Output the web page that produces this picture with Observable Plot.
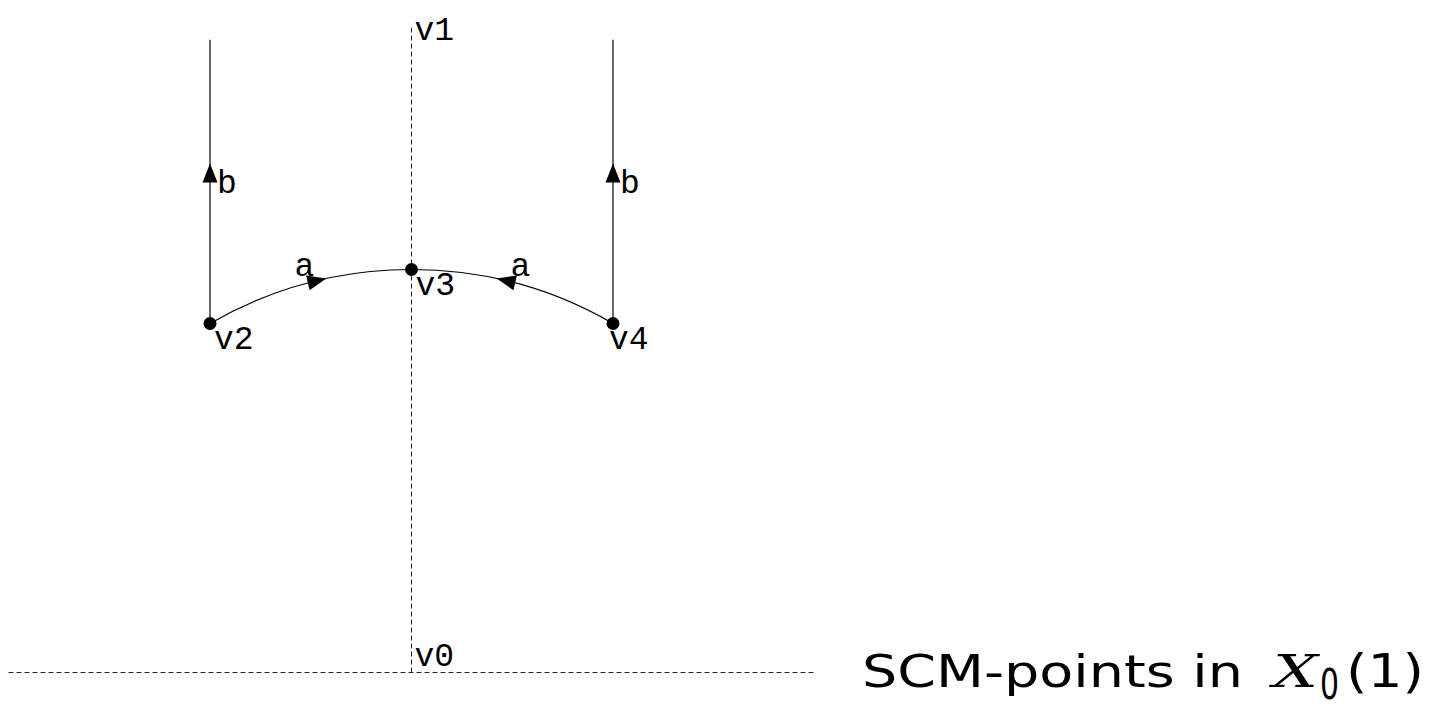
<!DOCTYPE html>
<html><head><meta charset="utf-8">
<script src="https://cdn.jsdelivr.net/npm/d3@7"></script>
<script src="https://cdn.jsdelivr.net/npm/@observablehq/plot@0.6"></script>
<style>html,body{margin:0;padding:0;background:#fff;overflow:hidden}</style>
</head><body><div id="chart"></div>
<script>
// Vertices (in the upper half-plane coordinates)
const vertexNames = ["v0", "v1", "v2", "v3", "v4"];
const vertexX = [0, 0, -0.5, 0, 0.5];
const vertexY = [0, 1.6, 0.866, 1, 0.866];
const markedVertices = ["v2", "v3", "v4"];

// Dashed reference lines (real axis and imaginary axis)
const dashedFrom = [[-1, 0], [0, 0]];
const dashedTo = [[1, 0], [0, 1.6]];

// Vertical edges labelled b (from v2 / v4 up toward the cusp)
const edgeBFrom = [[-0.5, 0.866], [0.5, 0.866]];
const edgeBTo = [[-0.5, 1.57], [0.5, 1.57]];
const arrowBX = [-0.5, 0.5];
const arrowBY = [1.238, 1.238];

// Circular edges labelled a (v2 -> v3, v4 -> v3)
const arrowAX = [-0.2355, 0.2355];
const arrowAY = [0.972, 0.972];
const arrowAAngle = [76.4, -76.4];

const vertices = vertexNames.map((name, i) => ({name, x: vertexX[i], y: vertexY[i]}));
const V = Object.fromEntries(vertices.map(d => [d.name, d]));
const dashed = dashedFrom.map((p, i) => ({x1: p[0], y1: p[1], x2: dashedTo[i][0], y2: dashedTo[i][1]}));
const edgesB = edgeBFrom.map((p, i) => ({x1: p[0], y1: p[1], x2: edgeBTo[i][0], y2: edgeBTo[i][1]}));
const arrowsB = arrowBX.map((x, i) => ({x, y: arrowBY[i], label: "b"}));
const arrowsA = arrowAX.map((x, i) => ({x, y: arrowAY[i], angle: arrowAAngle[i], label: "a"}));

const arrowHead = {draw(ctx) { ctx.moveTo(0, -10); ctx.lineTo(7.5, 9); ctx.lineTo(-7.5, 9); ctx.closePath(); }};
const mono = "Liberation Mono, DejaVu Sans Mono, monospace";
const fs = 33;

const W = 1438, H = 708, ox = 411, oy = 672, k = 403;

const plot = Plot.plot({
  width: W, height: H, margin: 0,
  x: {domain: [-ox / k, (W - ox) / k], range: [0, W], axis: null},
  y: {domain: [(oy - H) / k, oy / k], range: [H, 0], axis: null},
  style: {background: "white", overflow: "visible"},
  marks: [
    Plot.link(dashed, {x1: "x1", y1: "y1", x2: "x2", y2: "y2", stroke: "#222", strokeWidth: 1, strokeDasharray: "5,3"}),
    Plot.link(edgesB, {x1: "x1", y1: "y1", x2: "x2", y2: "y2", stroke: "black", strokeWidth: 1.2}),
    Plot.arrow([{a: V.v2, b: V.v3}], {x1: d => d.a.x, y1: d => d.a.y, x2: d => d.b.x, y2: d => d.b.y, bend: 15, headLength: 0, stroke: "black", strokeWidth: 1.2}),
    Plot.arrow([{a: V.v4, b: V.v3}], {x1: d => d.a.x, y1: d => d.a.y, x2: d => d.b.x, y2: d => d.b.y, bend: -15, headLength: 0, stroke: "black", strokeWidth: 1.2}),
    Plot.dot(arrowsB, {x: "x", y: "y", symbol: arrowHead, fill: "black", stroke: "none"}),
    Plot.dot(arrowsA, {x: "x", y: "y", symbol: arrowHead, fill: "black", stroke: "none", rotate: "angle"}),
    Plot.dot(vertices.filter(d => markedVertices.includes(d.name)), {x: "x", y: "y", r: 6.5, fill: "black", stroke: "none"}),
    Plot.text(vertices.filter(d => d.name === "v2" || d.name === "v3"), {x: "x", y: "y", text: "name", textAnchor: "start", lineAnchor: "bottom", dx: 4, dy: 25, fontFamily: mono, fontSize: fs, fill: "black"}),
    Plot.text(vertices.filter(d => d.name === "v4"), {x: "x", y: "y", text: "name", textAnchor: "start", lineAnchor: "bottom", dx: -4, dy: 25, fontFamily: mono, fontSize: fs, fill: "black"}),
    Plot.text(vertices.filter(d => d.name === "v1"), {x: "x", y: "y", text: "name", textAnchor: "start", lineAnchor: "bottom", dx: 3, dy: 12, fontFamily: mono, fontSize: fs, fill: "black"}),
    Plot.text(vertices.filter(d => d.name === "v0"), {x: "x", y: "y", text: "name", textAnchor: "start", lineAnchor: "bottom", dx: 3, dy: -7, fontFamily: mono, fontSize: fs, fill: "black"}),
    Plot.text(arrowsB, {x: "x", y: "y", text: "label", textAnchor: "start", lineAnchor: "bottom", dx: 7, dy: 19, fontFamily: mono, fontSize: fs, fill: "black"}),
    Plot.text(arrowsA.slice(0, 1), {x: "x", y: "y", text: "label", textAnchor: "start", lineAnchor: "bottom", dx: -22, dy: -5, fontFamily: mono, fontSize: fs, fill: "black"}),
    Plot.text(arrowsA.slice(1), {x: "x", y: "y", text: "label", textAnchor: "start", lineAnchor: "bottom", dx: 4, dy: -5, fontFamily: mono, fontSize: fs, fill: "black"})
  ]
});
document.getElementById("chart").appendChild(plot);

// Caption: "SCM-points in X_0(1)"
const svg = d3.select(plot);
const cap = svg.append("g").attr("fill", "black").attr("text-anchor", "start");
const sans = "DejaVu Sans, sans-serif";
cap.append("text").attr("x", 862).attr("y", 687).attr("text-anchor", "start").attr("font-family", sans).attr("font-size", 45)
  .attr("textLength", 381).attr("lengthAdjust", "spacingAndGlyphs").text("SCM-points in");
cap.append("text").attr("x", 1273).attr("y", 687).attr("text-anchor", "start").attr("font-family", "DejaVu Serif, serif").attr("font-style", "italic").attr("font-size", 44)
  .attr("textLength", 45).attr("lengthAdjust", "spacingAndGlyphs").text("X");
cap.append("text").attr("x", 1320).attr("y", 699).attr("text-anchor", "start").attr("font-family", sans).attr("font-size", 42)
  .attr("textLength", 19).attr("lengthAdjust", "spacingAndGlyphs").text("0");
cap.append("text").attr("x", 1346).attr("y", 687).attr("text-anchor", "start").attr("font-family", sans).attr("font-size", 46)
  .attr("textLength", 78).attr("lengthAdjust", "spacingAndGlyphs").text("(1)");
</script>
</body></html>
